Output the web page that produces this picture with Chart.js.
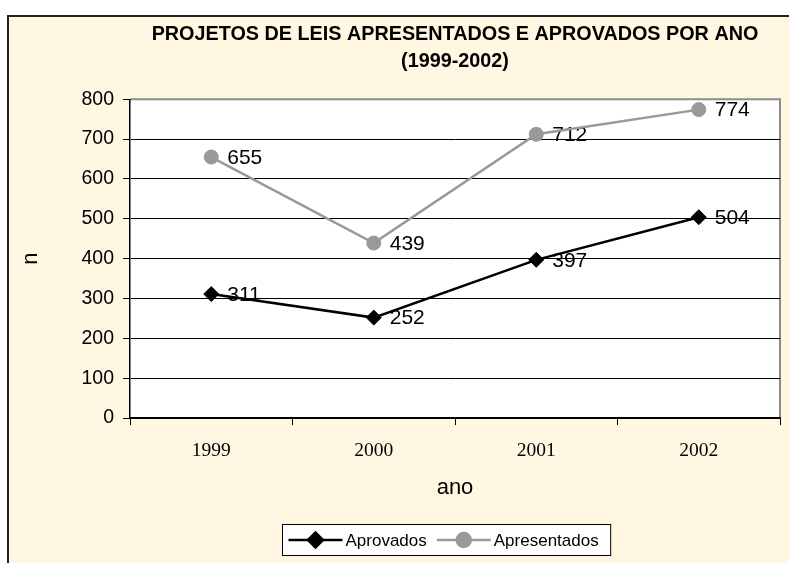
<!DOCTYPE html>
<html>
<head>
<meta charset="utf-8">
<style>
  html, body { margin: 0; padding: 0; background: #fff; }
  #wrap { width: 789px; height: 563px; }
</style>
</head>
<body>
<div id="wrap"><canvas id="myChart" width="789" height="563"></canvas></div>
<script src="https://cdn.jsdelivr.net/npm/chart.js"></script>
<script>
  // data
  const anos = ['1999', '2000', '2001', '2002'];
  const aprovados = [311, 252, 397, 504];
  const apresentados = [655, 439, 712, 774];
  const tituloLinhas = ['PROJETOS DE LEIS APRESENTADOS E APROVADOS POR ANO', '(1999-2002)'];

  const SANS = '"Liberation Sans", Arial, sans-serif';
  const SERIF = '"Liberation Serif", "Times New Roman", serif';
  const FUNDO = '#fff7e1';

  Chart.defaults.font.family = SANS;
  Chart.defaults.color = '#000';

  // outer frame + white plot area
  const moldura = {
    id: 'moldura',
    beforeDraw(chart) {
      const { ctx, chartArea: a } = chart;
      ctx.save();
      ctx.fillStyle = '#fff';
      ctx.fillRect(0, 0, chart.width, chart.height);
      ctx.fillStyle = FUNDO;
      ctx.fillRect(8, 16, chart.width, chart.height);
      ctx.strokeStyle = '#222';
      ctx.lineWidth = 2;
      ctx.strokeRect(8, 16, chart.width + 10, chart.height + 10);
      ctx.fillStyle = '#fff';
      ctx.fillRect(a.left, a.top, a.right - a.left, a.bottom - a.top);
      ctx.strokeStyle = '#8c8c8c';
      ctx.lineWidth = 2;
      ctx.beginPath();
      ctx.moveTo(a.left, a.top);
      ctx.lineTo(a.right, a.top);
      ctx.lineTo(a.right, a.bottom);
      ctx.stroke();
      ctx.restore();
    }
  };

  // value labels right of each point, under the lines
  const rotulos = {
    id: 'rotulos',
    beforeDatasetsDraw(chart) {
      const { ctx } = chart;
      ctx.save();
      ctx.font = '21px ' + SANS;
      ctx.fillStyle = '#000';
      ctx.textAlign = 'left';
      ctx.textBaseline = 'middle';
      chart.data.datasets.forEach((ds, i) => {
        chart.getDatasetMeta(i).data.forEach((pt, j) => {
          ctx.fillText(String(ds.data[j]), pt.x + 16, pt.y + 1);
        });
      });
      ctx.restore();
    }
  };

  // boxed legend with line + marker samples
  const legenda = {
    id: 'legenda',
    afterDraw(chart) {
      const { ctx, chartArea: a } = chart;
      const linha = 54, gap = 3, entre = 10, padL = 6, padR = 12;
      ctx.save();
      ctx.font = '17px ' + SANS;
      const itens = chart.data.datasets.map(ds => ({ ds, w: ctx.measureText(ds.label).width }));
      let total = padL + padR;
      itens.forEach((it, i) => { total += linha + gap + it.w + (i < itens.length - 1 ? entre : 0); });
      const cx = (a.left + a.right) / 2 - 9;
      const x0 = Math.round(cx - total / 2) + 0.5;
      const top = 524.5, h = 31;
      const cy = top + h / 2;
      ctx.fillStyle = '#fff';
      ctx.fillRect(x0, top, total, h);
      ctx.strokeStyle = '#000';
      ctx.lineWidth = 1;
      ctx.strokeRect(x0, top, total, h);
      let x = x0 + padL;
      itens.forEach(it => {
        ctx.strokeStyle = it.ds.borderColor;
        ctx.lineWidth = it.ds.borderWidth;
        ctx.beginPath();
        ctx.moveTo(x, cy);
        ctx.lineTo(x + linha, cy);
        ctx.stroke();
        ctx.fillStyle = it.ds.backgroundColor;
        Chart.helpers.drawPoint(ctx, {
          pointStyle: it.ds.pointStyle, radius: it.ds.pointRadius, borderWidth: 1, rotation: 0
        }, x + linha / 2, cy);
        ctx.fill();
        ctx.fillStyle = '#000';
        ctx.textAlign = 'left';
        ctx.textBaseline = 'middle';
        ctx.fillText(it.ds.label, x + linha + gap, cy + 1);
        x += linha + gap + it.w + entre;
      });
      ctx.restore();
    }
  };

  const ctx = document.getElementById('myChart');
  new Chart(ctx, {
    type: 'line',
    data: {
      labels: anos,
      datasets: [
        {
          label: 'Aprovados',
          data: aprovados,
          borderColor: '#000',
          backgroundColor: '#000',
          borderWidth: 2.5,
          pointStyle: 'rectRot',
          pointRadius: 7.5,
          pointBorderWidth: 1,
          tension: 0
        },
        {
          label: 'Apresentados',
          data: apresentados,
          borderColor: '#999999',
          backgroundColor: '#999999',
          borderWidth: 2.5,
          pointStyle: 'circle',
          pointRadius: 7,
          pointBorderWidth: 1,
          tension: 0
        }
      ]
    },
    options: {
      responsive: false,
      animation: false,
      layout: { padding: { left: 0, top: 0, right: 9, bottom: 0 } },
      scales: {
        x: {
          offset: true,
          grid: { offset: true, drawOnChartArea: false, tickLength: 7, color: '#000', lineWidth: 1 },
          border: { color: '#000', width: 1.5 },
          ticks: { color: '#000', font: { family: SERIF, size: 19.5 }, padding: 14, maxRotation: 0 },
          title: { display: true, text: 'ano', color: '#000', font: { size: 22 }, padding: { bottom: 62 } },
          afterFit: s => { s.height = 145; }
        },
        y: {
          min: 0,
          max: 800,
          ticks: { stepSize: 100, color: '#000', font: { size: 19.5 }, padding: 9 },
          grid: {
            color: c => (c.tick && c.tick.value === 800) ? 'rgba(0,0,0,0)' : '#000',
            tickColor: '#000',
            tickLength: 7,
            lineWidth: 1
          },
          border: { color: '#000', width: 1.5 },
          title: { display: true, text: 'n', color: '#000', font: { size: 22 }, padding: { top: 18 } },
          afterFit: s => { s.width = 130; }
        }
      },
      plugins: {
        legend: { display: false },
        tooltip: { enabled: false },
        title: {
          display: true,
          text: tituloLinhas,
          fullSize: false,
          color: '#000',
          font: { family: SANS, size: 19.8, weight: 'bold', lineHeight: 1.37 },
          padding: { top: 20.5, bottom: 24.5 }
        }
      }
    },
    plugins: [moldura, rotulos, legenda]
  });
</script>
</body>
</html>
